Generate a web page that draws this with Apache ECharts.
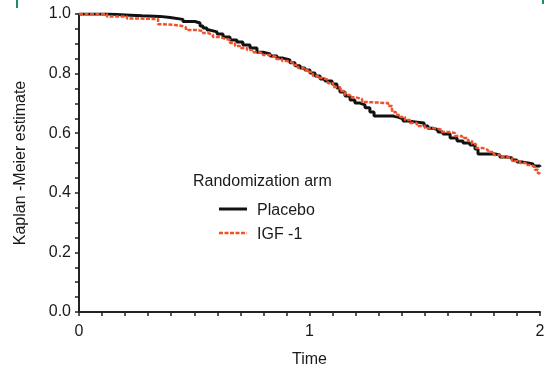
<!DOCTYPE html>
<html>
<head>
<meta charset="utf-8">
<script src="https://cdn.jsdelivr.net/npm/echarts@6/dist/echarts.min.js"></script>
<style>
html,body{margin:0;padding:0;background:#fff;}
#c{width:554px;height:365px;}
</style>
</head>
<body>
<div id="c"></div>
<script>
// Kaplan-Meier step data (time, survival)
const placeboTime = [0, 0.126, 0.200, 0.273, 0.351, 0.395, 0.451, 0.503, 0.525, 0.538, 0.555, 0.568, 0.599, 0.625, 0.655, 0.685, 0.711, 0.742, 0.772, 0.798, 0.829, 0.859, 0.885, 0.915, 0.937, 0.959, 0.980, 1.002, 1.024, 1.046, 1.067, 1.098, 1.119, 1.132, 1.154, 1.176, 1.197, 1.219, 1.241, 1.262, 1.280, 1.362, 1.384, 1.406, 1.427, 1.458, 1.497, 1.514, 1.536, 1.557, 1.579, 1.610, 1.640, 1.666, 1.696, 1.718, 1.731, 1.805, 1.826, 1.857, 1.879, 1.900, 1.926, 1.948, 1.970, 2.000];
const placeboSurv = [1.000, 0.997, 0.994, 0.992, 0.988, 0.982, 0.975, 0.970, 0.960, 0.953, 0.946, 0.940, 0.933, 0.923, 0.913, 0.906, 0.896, 0.886, 0.872, 0.866, 0.859, 0.852, 0.846, 0.836, 0.826, 0.819, 0.812, 0.802, 0.792, 0.782, 0.775, 0.765, 0.752, 0.738, 0.725, 0.711, 0.701, 0.695, 0.685, 0.671, 0.658, 0.654, 0.648, 0.641, 0.638, 0.634, 0.624, 0.617, 0.611, 0.604, 0.597, 0.584, 0.574, 0.567, 0.560, 0.547, 0.530, 0.527, 0.520, 0.517, 0.510, 0.503, 0.500, 0.497, 0.490, 0.487];

const igfTime = [0, 0.121, 0.208, 0.243, 0.343, 0.360, 0.416, 0.447, 0.464, 0.512, 0.538, 0.560, 0.581, 0.612, 0.629, 0.655, 0.677, 0.698, 0.729, 0.751, 0.772, 0.798, 0.829, 0.855, 0.881, 0.907, 0.928, 0.950, 0.976, 0.993, 1.015, 1.037, 1.059, 1.080, 1.102, 1.132, 1.154, 1.176, 1.197, 1.228, 1.241, 1.341, 1.358, 1.375, 1.393, 1.414, 1.436, 1.466, 1.501, 1.544, 1.575, 1.601, 1.631, 1.662, 1.688, 1.705, 1.722, 1.753, 1.774, 1.800, 1.826, 1.852, 1.879, 1.913, 1.939, 1.961, 1.978, 1.991, 2.000];
const igfSurv = [1.000, 0.992, 0.985, 0.983, 0.966, 0.963, 0.960, 0.955, 0.946, 0.943, 0.936, 0.930, 0.923, 0.918, 0.913, 0.903, 0.893, 0.886, 0.879, 0.872, 0.869, 0.862, 0.856, 0.849, 0.842, 0.836, 0.829, 0.819, 0.812, 0.805, 0.792, 0.785, 0.779, 0.768, 0.755, 0.742, 0.728, 0.721, 0.715, 0.705, 0.701, 0.691, 0.671, 0.661, 0.654, 0.644, 0.634, 0.624, 0.617, 0.611, 0.604, 0.601, 0.591, 0.584, 0.574, 0.564, 0.550, 0.544, 0.537, 0.527, 0.520, 0.517, 0.507, 0.500, 0.493, 0.487, 0.477, 0.466, 0.460];

const seriesNames = ['Placebo', 'IGF -1'];
const legendTitle = 'Randomization arm';
const xName = 'Time';
const yName = 'Kaplan -Meier estimate';

const pair = (t, s) => t.map((v, i) => [v, s[i]]);

const font = 'Liberation Sans, Arial, sans-serif';
const black = '#111';
const red = '#f0532b';
const chart = echarts.init(document.getElementById('c'));
chart.setOption({
  animation: false,
  backgroundColor: '#fff',
  grid: { left: 79, right: 14, top: 14, bottom: 53, containLabel: false, outerBoundsMode: 'none' },
  xAxis: {
    type: 'value', min: 0, max: 2, interval: 1,
    name: xName, nameLocation: 'middle', nameGap: 40,
    nameTextStyle: { fontFamily: font, fontSize: 16, color: '#1a1a1a' },
    axisLine: { show: true, lineStyle: { color: '#222', width: 2 } },
    axisTick: { show: true, length: 4, lineStyle: { color: '#222', width: 1.5 } },
    minorTick: { show: true, splitNumber: 10, length: 4, lineStyle: { color: '#222', width: 1.5 } },
    axisLabel: { fontFamily: font, fontSize: 16, color: '#1a1a1a', margin: 12 },
    splitLine: { show: false }, minorSplitLine: { show: false }
  },
  yAxis: {
    type: 'value', min: 0, max: 1, interval: 0.2,
    name: yName, nameLocation: 'middle', nameGap: 50, nameRotate: 90,
    nameTextStyle: { fontFamily: font, fontSize: 16, color: '#1a1a1a' },
    axisLine: { show: true, lineStyle: { color: '#222', width: 2 } },
    axisTick: { show: true, length: 4, lineStyle: { color: '#222', width: 1.5 } },
    minorTick: { show: true, splitNumber: 4, length: 4, lineStyle: { color: '#222', width: 1.5 } },
    axisLabel: { fontFamily: font, fontSize: 16, color: '#1a1a1a', margin: 8, formatter: v => v.toFixed(1) },
    splitLine: { show: false }, minorSplitLine: { show: false }
  },
  graphic: [
    { type: 'text', left: 193, top: 174, style: { text: legendTitle, font: '16px ' + font, fill: '#1a1a1a' } },
    { type: 'line', shape: { x1: 219, y1: 209, x2: 247, y2: 209 }, style: { stroke: black, lineWidth: 3 } },
    { type: 'text', left: 257, top: 203, style: { text: seriesNames[0], font: '16px ' + font, fill: '#1a1a1a' } },
    { type: 'line', shape: { x1: 219, y1: 233, x2: 247, y2: 233 }, style: { stroke: red, lineWidth: 2.5, lineDash: [4, 1.5] } },
    { type: 'text', left: 257, top: 227, style: { text: seriesNames[1], font: '16px ' + font, fill: '#1a1a1a' } },
    { type: 'rect', shape: { x: 16, y: 0, width: 2, height: 8 }, style: { fill: '#1f8a70' } },
    { type: 'rect', shape: { x: 542, y: 0, width: 2, height: 4 }, style: { fill: '#1f8a70' } }
  ],
  series: [
    {
      name: seriesNames[0], type: 'line', step: 'end', symbol: 'none', z: 2,
      data: pair(placeboTime, placeboSurv),
      lineStyle: { color: black, width: 3 }, itemStyle: { color: black }
    },
    {
      name: seriesNames[1], type: 'line', step: 'end', symbol: 'none', z: 3,
      data: pair(igfTime, igfSurv),
      lineStyle: { color: red, width: 2.5, type: [4, 1.5] }, itemStyle: { color: red }
    }
  ]
});
</script>
</body>
</html>
